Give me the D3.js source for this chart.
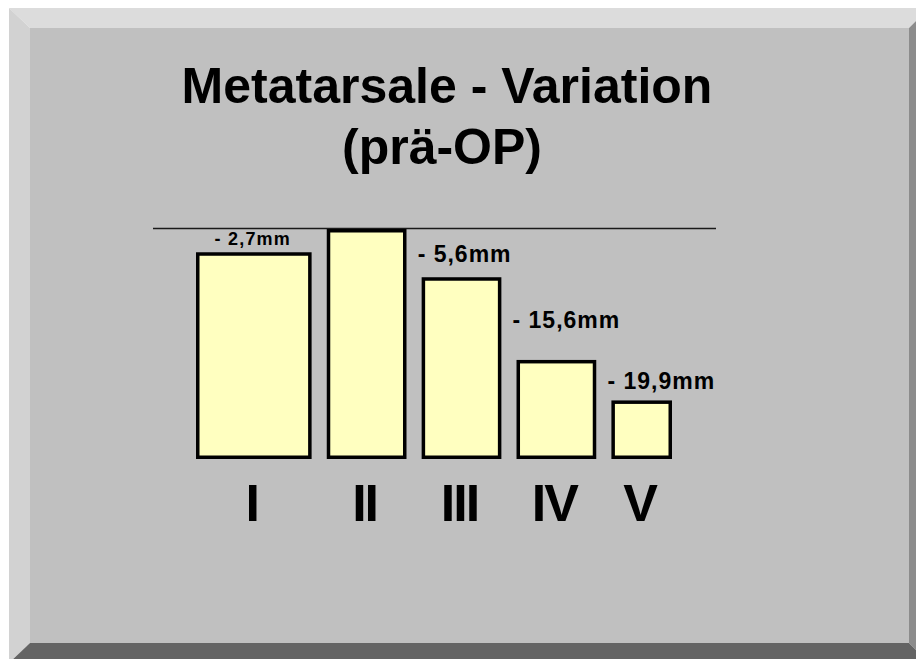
<!DOCTYPE html>
<html>
<head>
<meta charset="utf-8">
<script src="https://cdn.jsdelivr.net/npm/d3@7"></script>
<style>
  body { margin: 0; background: #fff; }
  svg { display: block; }
  .title { font-family: "Liberation Sans", Arial, sans-serif; font-weight: bold; font-size: 50px; fill: #000; }
  .bone-label { font-family: "Liberation Sans", Arial, sans-serif; font-weight: bold; font-size: 52px; letter-spacing: -2px; fill: #000; }
  .diff-label { font-family: "Liberation Sans", Arial, sans-serif; font-weight: bold; font-size: 23px; letter-spacing: 1px; fill: #000; }
  .diff-label.small { font-size: 18px; letter-spacing: 1.2px; }
</style>
</head>
<body>
<div class="display"></div>
<script>
// Metatarsal lengths before surgery, compared with the second ray

const WIDTH = 916;
const HEIGHT = 659;

const titleLines = ['Metatarsale - Variation', '(prä-OP)'];
const bones = ['I', 'II', 'III', 'IV', 'V'];
const lengths = [24.0, 26.7, 21.1, 11.5, 6.8];      // mm
const boneWidths = [1.45, 1, 1, 1, 0.76];            // relative bar widths
const diffLabels = ['- 2,7mm', null, '- 5,6mm', '- 15,6mm', '- 19,9mm'];

const GAP = 0.19;
const BORDER = 3.5;

let svg, x, y;

function setupSvg() {
  svg = d3.select('.display')
    .append('svg')
    .attr('width', WIDTH)
    .attr('height', HEIGHT);
}

function drawFrame() {
  // bevelled slide, slightly larger than the window on the right/bottom
  const o = { l: 9, t: 8, r: 929, b: 663 };
  const f = { l: 30, t: 28, r: 909, b: 643 };

  svg.append('rect')
    .attr('x', f.l).attr('y', f.t)
    .attr('width', f.r - f.l).attr('height', f.b - f.t)
    .attr('fill', '#c0c0c0');

  const bevels = [
    { pts: [[o.l, o.t], [o.r, o.t], [f.r, f.t], [f.l, f.t]], fill: '#dcdcdc' },
    { pts: [[o.l, o.t], [f.l, f.t], [f.l, f.b], [o.l, o.b]], fill: '#d2d2d2' },
    { pts: [[o.r, o.t], [o.r, o.b], [f.r, f.b], [f.r, f.t]], fill: '#8c8c8c' },
    { pts: [[o.l, o.b], [f.l, f.b], [f.r, f.b], [o.r, o.b]], fill: '#646464' }
  ];

  svg.append('g')
    .selectAll('polygon')
    .data(bevels)
    .enter()
    .append('polygon')
    .attr('points', d => d.pts.map(p => p.join(',')).join(' '))
    .attr('fill', d => d.fill);
}

function drawTitle() {
  const pos = [[447, 103], [442, 164]];
  svg.append('g')
    .selectAll('text')
    .data(titleLines)
    .enter()
    .append('text')
    .attr('class', 'title')
    .attr('text-anchor', 'middle')
    .attr('x', (d, i) => pos[i][0])
    .attr('y', (d, i) => pos[i][1])
    .text(d => d);
}

function drawBars() {
  // cumulative start of each bar in width units
  const starts = [];
  let acc = 0;
  boneWidths.forEach(w => { starts.push(acc); acc += w + GAP; });
  const total = acc - GAP;

  x = d3.scaleLinear().domain([0, total]).range([196, 672]);
  y = d3.scaleLinear().domain([0, d3.max(lengths)]).range([459, 229]);

  const bars = bones.map((b, i) => ({
    bone: b,
    length: lengths[i],
    x0: x(starts[i]),
    x1: x(starts[i] + boneWidths[i]),
    label: diffLabels[i],
    prevLength: i > 0 ? lengths[i - 1] : null
  }));

  // reference line at the level of the longest metatarsal
  svg.append('line')
    .attr('x1', x.range()[0] - 43)
    .attr('x2', x.range()[1] + 44)
    .attr('y1', y(d3.max(lengths)) - 0.5)
    .attr('y2', y(d3.max(lengths)) - 0.5)
    .attr('stroke', '#1a1a1a')
    .attr('stroke-width', 1.5);

  svg.append('g')
    .selectAll('rect')
    .data(bars)
    .enter()
    .append('rect')
    .attr('x', d => d.x0 + BORDER / 2)
    .attr('y', d => y(d.length) + BORDER / 2)
    .attr('width', d => d.x1 - d.x0 - BORDER)
    .attr('height', d => y(0) - y(d.length) - BORDER)
    .attr('fill', '#ffffc0')
    .attr('stroke', '#000')
    .attr('stroke-width', BORDER);

  svg.append('g')
    .selectAll('text')
    .data(bars)
    .enter()
    .append('text')
    .attr('class', 'bone-label')
    .attr('text-anchor', 'middle')
    .attr('x', d => (d.x0 + d.x1) / 2 - 2)
    .attr('y', 521)
    .text(d => d.bone);

  const labelled = bars.filter(d => d.label);
  svg.append('g')
    .selectAll('text')
    .data(labelled)
    .enter()
    .append('text')
    .attr('class', (d, i) => i === 0 ? 'diff-label small' : 'diff-label')
    .attr('text-anchor', (d, i) => i === 0 ? 'middle' : 'start')
    .attr('x', (d, i) => i === 0 ? (d.x0 + d.x1) / 2 - 1 : d.x0 - 4)
    .attr('y', (d, i) => i === 0
      ? y(d.length) - 7
      : (y(d.length) + y(d.prevLength)) / 2 + 9)
    .text(d => d.label);
}

setupSvg();
drawFrame();
drawTitle();
drawBars();
</script>
</body>
</html>
